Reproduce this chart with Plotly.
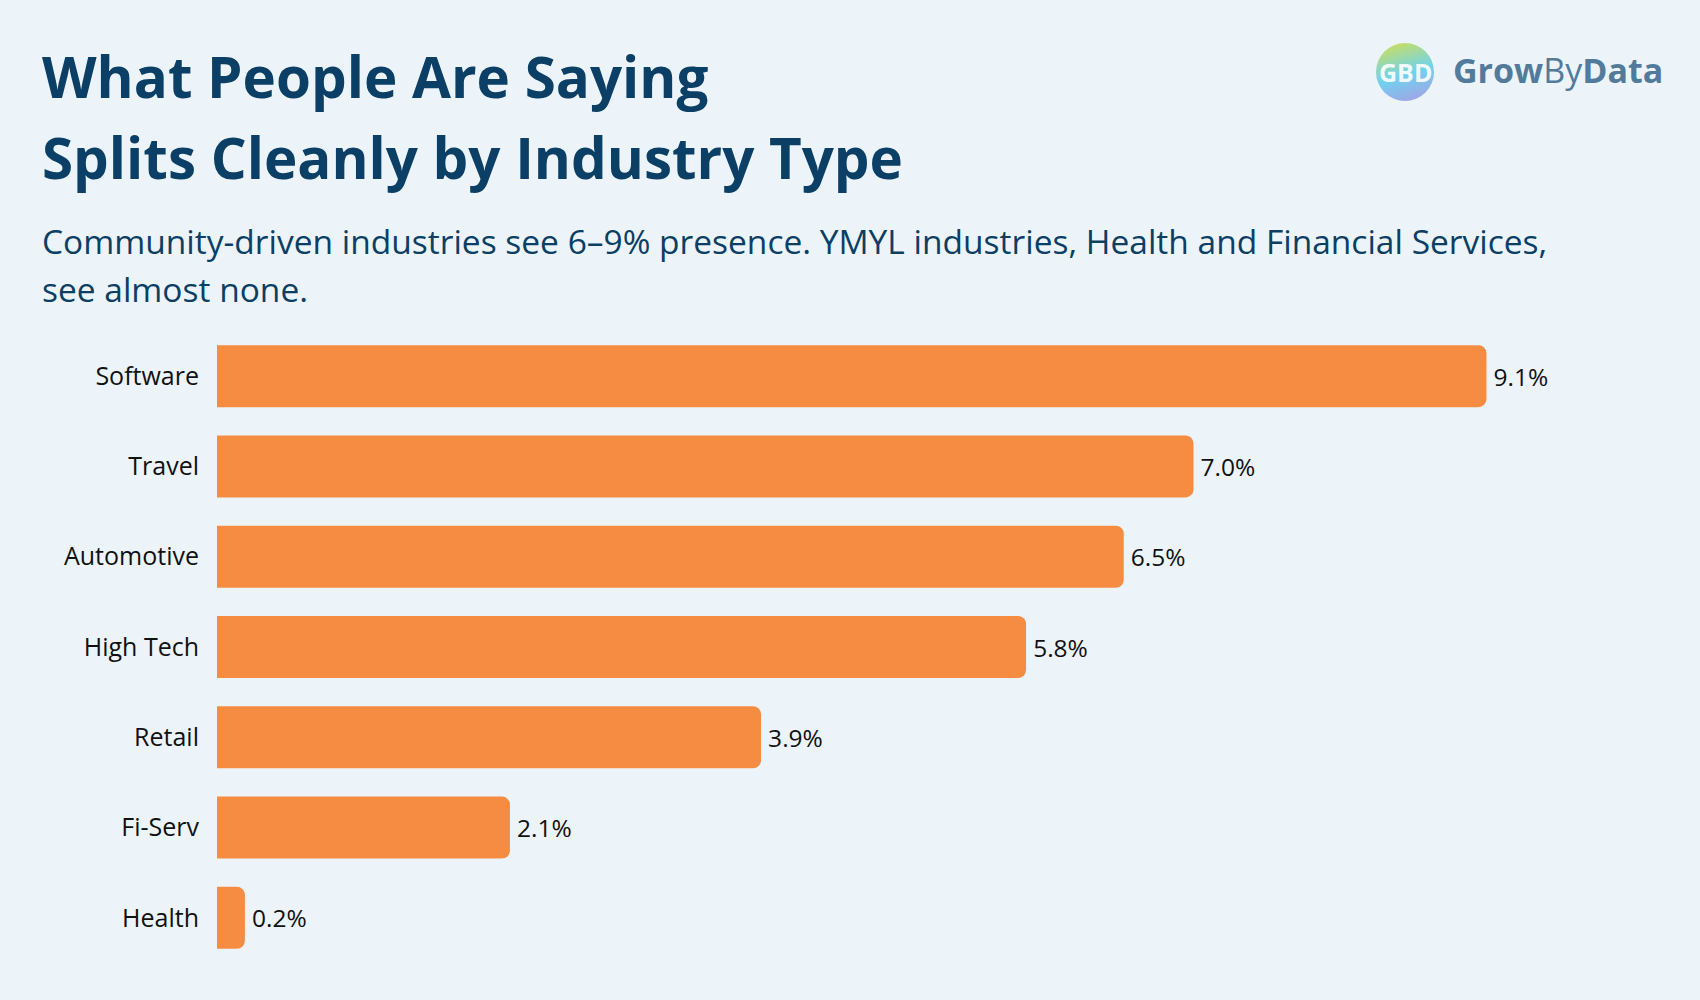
import plotly.graph_objects as go
import base64

categories = ["Software", "Travel", "Automotive", "High Tech", "Retail", "Fi-Serv", "Health"]
values = [9.1, 7.0, 6.5, 5.8, 3.9, 2.1, 0.2]

title_lines = ["What People Are Saying", "Splits Cleanly by Industry Type"]
subtitle_lines = [
    "Community-driven industries see 6\u20139% presence. YMYL industries, Health and Financial Services,",
    "see almost none.",
]

W, H = 1700, 1000
L, R, T, B = 217, 88, 331, 37
PW, PH = W - L - R, H - T - B

def px(x):
    return (x - L) / PW

def py(y):
    return (H - B - y) / PH

BG = "#ECF4FA"
NAVY = "#0B3F66"
ORANGE = "#F58C42"
FONT = "Open Sans"

fig = go.Figure(go.Bar(
    x=values, y=categories, orientation="h",
    marker=dict(color=ORANGE, cornerradius=8, line=dict(width=0)),
    texttemplate="\u2009%{x:.1f}%", textposition="outside", cliponaxis=False,
    textfont=dict(family=FONT, size=24.5, color="#111111"),
    hoverinfo="skip",
))

ann = []
for i, t in enumerate(title_lines):
    ann.append(dict(text=f"<b>{t}</b>", x=px(40), y=py([76, 157][i]), xref="paper", yref="paper",
                    xanchor="left", yanchor="middle", showarrow=False,
                    font=dict(family=FONT, size=56.5, color=NAVY)))
for i, t in enumerate(subtitle_lines):
    ann.append(dict(text=t, x=px(40), y=py([241, 289][i]), xref="paper", yref="paper",
                    xanchor="left", yanchor="middle", showarrow=False,
                    font=dict(family=FONT, size=33.5, color=NAVY)))
# logo text
ann.append(dict(text="<b>Grow</b>By<b>Data</b>", x=px(1451), y=py(70), xref="paper", yref="paper",
                xanchor="left", yanchor="middle", showarrow=False,
                font=dict(family=FONT, size=34, color="#527B9B")))
ann.append(dict(text="<b>GBD</b>", x=px(1405), y=py(72), xref="paper", yref="paper",
                xanchor="center", yanchor="middle", showarrow=False,
                font=dict(family=FONT, size=25, color="rgba(255,255,255,0.9)")))

svg = """<svg xmlns='http://www.w3.org/2000/svg' width='100' height='100'>
<defs>
<linearGradient id='g' x1='0.3' y1='0' x2='0.6' y2='1'>
<stop offset='0' stop-color='#C8DE62'/>
<stop offset='0.55' stop-color='#6FD3EE'/>
<stop offset='1' stop-color='#9FA6E6'/>
</linearGradient>
</defs>
<circle cx='50' cy='50' r='50' fill='url(#g)'/>
</svg>"""
uri = "data:image/svg+xml;base64," + base64.b64encode(svg.encode()).decode()

fig.update_layout(
    width=W, height=H,
    margin=dict(l=L, r=R, t=T, b=B),
    paper_bgcolor=BG, plot_bgcolor=BG,
    showlegend=False,
    bargap=0.313,
    xaxis=dict(range=[0, 10], visible=False, fixedrange=True),
    yaxis=dict(autorange="reversed", showgrid=False, zeroline=False, showline=False,
               ticks="", ticklabelstandoff=17,
               tickfont=dict(family=FONT, size=25, color="#111111")),
    annotations=ann,
    images=[dict(source=uri, xref="paper", yref="paper", x=px(1376), y=py(43),
                 sizex=58 / PW, sizey=58 / PH, xanchor="left", yanchor="top",
                 sizing="stretch", layer="below")],
)

fig.write_html("out.html")
